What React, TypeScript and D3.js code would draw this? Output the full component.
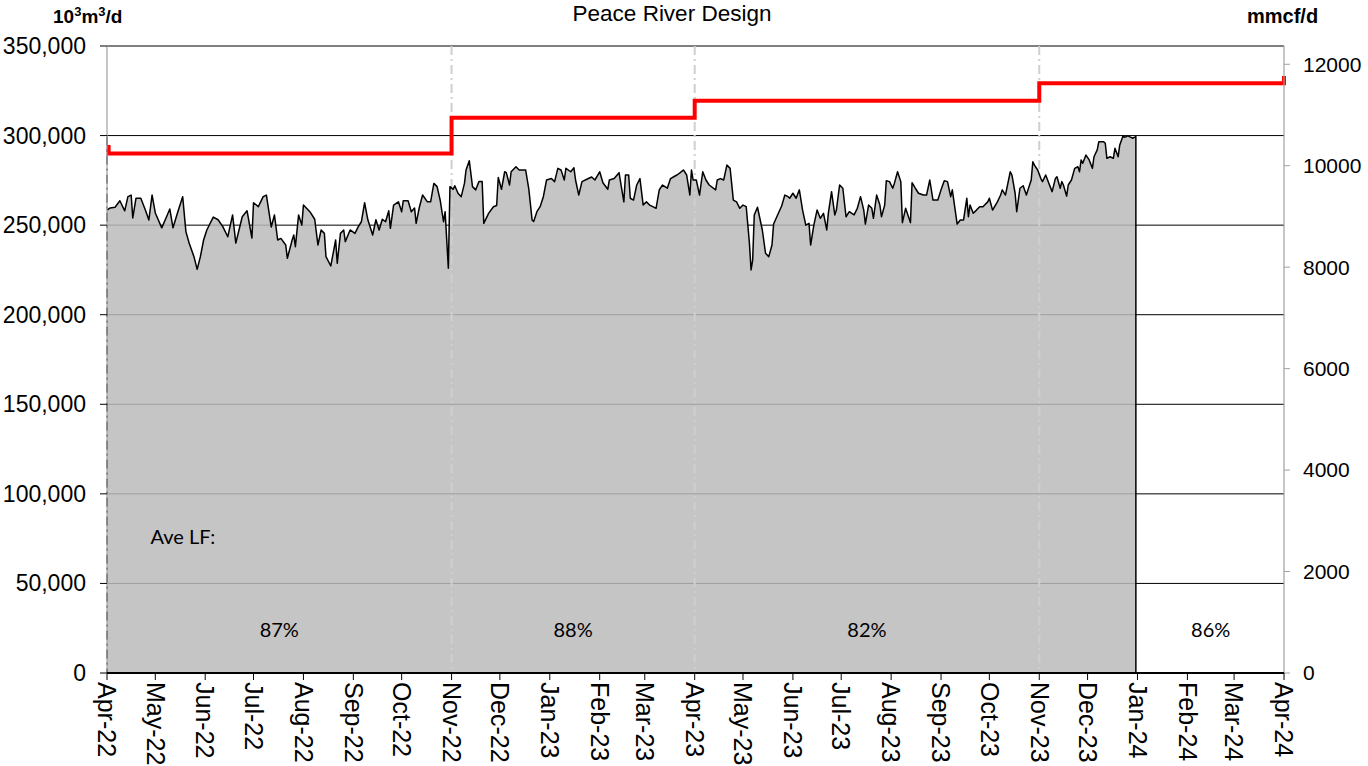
import React from 'react';
import * as d3 from 'd3';

// days since 2022-04-01 and daily flow (10^3 m3/d, in thousands)
const flowDays = [
  0, 2, 5, 8, 11, 13, 15, 16, 18, 21, 24, 26, 28, 30, 34, 37, 39, 41, 44, 47, 49, 51, 54, 56, 58, 60, 62, 66, 69, 72,
  75, 78, 80, 84, 87, 90, 91, 94, 97, 99, 102, 104, 106, 108, 111, 112, 115, 116, 117, 119, 121, 122, 126, 129, 131,
  133, 135, 136, 139, 142, 143, 145, 147, 148, 151, 154, 156, 158, 160, 162, 165, 167, 169, 171, 173, 175, 176, 178,
  181, 183, 184, 187, 189, 191, 192, 194, 196, 199, 201, 203, 205, 207, 209, 210, 212, 213, 215, 216, 218, 220, 222,
  223, 225, 227, 229, 231, 233, 234, 237, 240, 242, 243, 245, 247, 248, 250, 251, 254, 256, 260, 262, 264, 265, 267,
  269, 271, 273, 276, 278, 280, 282, 284, 285, 288, 290, 291, 293, 295, 298, 301, 303, 306, 308, 311, 312, 315, 318,
  321, 322, 324, 325, 327, 329, 331, 333, 335, 337, 339, 341, 343, 345, 348, 350, 352, 354, 356, 358, 360, 362, 363,
  364, 366, 368, 370, 372, 374, 378, 379, 381, 383, 385, 387, 389, 391, 393, 395, 397, 399, 400, 401, 402, 404, 407,
  409, 411, 413, 414, 416, 419, 421, 423, 424, 426, 428, 430, 432, 434, 436, 437, 439, 441, 443, 445, 447, 448, 450,
  452, 453, 455, 457, 459, 461, 464, 466, 468, 470, 471, 473, 475, 476, 478, 480, 481, 483, 484, 486, 488, 489, 491,
  493, 494, 496, 499, 500, 502, 504, 507, 509, 511, 513, 516, 518, 520, 522, 524, 525, 528, 530, 532, 534, 535, 536,
  538, 540, 542, 544, 547, 548, 550, 553, 555, 556, 558, 561, 562, 564, 565, 567, 569, 571, 572, 574, 575, 576, 578,
  580, 581, 583, 585, 587, 589, 590, 592, 593, 594, 596, 597, 599, 601, 603, 604, 605, 606, 608, 610, 612, 613, 615,
  616, 619, 620, 621, 623, 625, 626, 628, 629, 631, 632, 634, 636, 637, 639,
];
const flowValues = [
  258.4, 259.6, 260.0, 263.6, 258.0, 265.9, 266.8, 254.0, 265.0, 265.0, 258.0, 252.9, 266.8, 256.8, 248.5, 254.7,
  259.0, 248.5, 257.5, 265.9, 246.4, 240.0, 232.4, 225.3, 232.4, 241.7, 247.3, 254.5, 253.0, 249.0, 243.5, 255.7,
  240.0, 254.7, 258.0, 242.8, 262.5, 260.3, 265.9, 266.8, 249.0, 255.7, 241.7, 242.6, 238.9, 231.5, 241.7, 244.5,
  238.0, 255.7, 250.0, 261.2, 257.5, 253.3, 238.9, 247.3, 245.4, 232.4, 227.2, 241.7, 228.7, 245.4, 247.3, 240.8,
  247.3, 245.4, 249.0, 251.9, 262.5, 253.0, 244.5, 253.0, 247.3, 253.3, 251.9, 258.0, 248.2, 261.2, 263.0, 257.5,
  263.6, 263.6, 257.5, 259.6, 251.0, 260.0, 266.8, 263.0, 263.0, 273.3, 271.5, 263.6, 251.9, 257.5, 225.9, 271.5,
  270.0, 272.0, 267.8, 265.9, 273.3, 280.8, 286.0, 271.5, 269.7, 274.3, 274.3, 251.0, 256.6, 260.3, 261.0, 276.6,
  270.0, 279.8, 279.3, 272.4, 279.8, 282.6, 280.8, 280.8, 270.0, 252.9, 252.0, 257.5, 260.3, 265.9, 275.2, 276.0,
  274.3, 281.7, 280.8, 275.2, 281.7, 279.8, 282.0, 275.2, 266.8, 274.3, 275.6, 276.9, 275.2, 279.8, 273.7, 270.0,
  275.2, 276.0, 279.3, 263.0, 278.0, 278.0, 265.0, 264.0, 272.4, 276.0, 261.2, 263.0, 261.2, 260.3, 259.4, 269.7,
  272.4, 270.6, 276.0, 277.0, 278.0, 279.3, 280.8, 278.0, 266.8, 280.8, 275.2, 275.2, 266.8, 279.8, 275.2, 272.4,
  269.7, 275.2, 276.0, 275.2, 283.5, 281.7, 264.0, 263.0, 259.4, 261.2, 260.3, 239.8, 225.0, 230.5, 255.7, 260.0,
  247.3, 234.3, 232.4, 238.9, 250.6, 254.7, 260.7, 266.8, 265.9, 265.0, 267.8, 265.0, 269.7, 258.4, 250.0, 251.0,
  238.9, 250.0, 258.4, 253.8, 256.6, 247.3, 256.6, 268.7, 255.7, 258.4, 272.4, 270.6, 254.7, 257.5, 255.7, 259.4,
  265.9, 258.4, 250.6, 261.2, 259.4, 253.8, 266.8, 261.2, 254.7, 261.2, 274.8, 274.3, 270.6, 273.3, 279.8, 274.3,
  251.4, 259.4, 251.4, 273.7, 270.6, 267.8, 266.8, 266.8, 275.2, 264.0, 264.0, 269.7, 274.8, 274.3, 265.9, 269.7,
  250.6, 252.9, 252.9, 265.0, 254.7, 261.2, 256.6, 258.4, 260.3, 260.3, 263.0, 265.0, 258.4, 263.0, 266.8, 269.7,
  266.8, 279.8, 278.0, 267.8, 257.5, 270.6, 272.0, 266.8, 269.7, 275.2, 285.4, 283.5, 280.8, 276.0, 274.3, 278.0,
  273.3, 268.7, 276.0, 277.0, 270.6, 274.3, 272.4, 266.2, 272.4, 275.2, 281.7, 282.6, 279.8, 286.4, 284.5, 289.1,
  286.4, 281.7, 288.2, 292.0, 296.6, 296.6, 295.7, 287.3, 288.2, 287.3, 292.9, 288.2, 294.8, 299.8, 299.0, 299.8,
  299.0, 298.5, 299.4,
];

// design capacity steps (days since 2022-04-01, 10^3 m3/d)
const designDays = [0, 1, 214, 365, 579, 731];
const designValues = [293600, 290000, 310000, 319500, 329200, 333200];

const leftTicks = [0, 50000, 100000, 150000, 200000, 250000, 300000, 350000];
const rightTicks = [0, 2000, 4000, 6000, 8000, 10000, 12000];
const periodBreaks = ['2022-11-01', '2023-04-01', '2023-11-01'];
const lfLabels = ['87%', '88%', '82%', '86%'];
const lfStarts = ['2022-04-01', '2022-11-01', '2023-04-01', '2024-01-01'];
const lfEnds = ['2022-11-01', '2023-04-01', '2023-11-01', '2024-04-01'];

const M3_PER_MCF = 28.3168;
const START = new Date(2022, 3, 1);
const END = new Date(2024, 3, 1);
const parse = (s: string) => {
  const [y, m, d] = s.split('-').map(Number);
  return new Date(y, m - 1, d);
};

const W = 1368;
const H = 766;
const L = 107;
const R = 1284;
const T = 46;
const B = 673;
const FONT = "Arial, 'Liberation Sans', sans-serif";
const LABEL_FONT = "Lato, 'Open Sans', sans-serif";

export default function App() {
  const x = d3.scaleTime().domain([START, END]).range([L, R]);
  const y = d3.scaleLinear().domain([0, 350000]).range([B, T]);
  const yR = d3.scaleLinear().domain([0, 350000 / M3_PER_MCF]).range([B, T]);

  const flow = flowDays.map((d, i) => ({ date: d3.timeDay.offset(START, d), v: flowValues[i] * 1000 }));
  const design = designDays.map((d, i) => ({ date: d3.timeDay.offset(START, d), v: designValues[i] }));

  const area = d3
    .area<{ date: Date; v: number }>()
    .x((d) => x(d.date))
    .y0(B)
    .y1((d) => y(d.v));
  const last = flow[flow.length - 1];
  const line = d3
    .line<{ date: Date; v: number }>()
    .x((d) => x(d.date))
    .y((d) => y(d.v));
  const outline = line([...flow, { date: last.date, v: 0 }]) || '';
  const redLine =
    d3
      .line<{ date: Date; v: number }>()
      .x((d) => x(d.date))
      .y((d) => y(d.v))
      .curve(d3.curveStepAfter)(design) || '';

  const months = d3.timeMonth.range(START, d3.timeDay.offset(END, 1));
  const fmt = d3.timeFormat('%b-%y');

  return (
    <svg width={W} height={H} style={{ position: 'absolute', left: 0, top: 0, background: '#fff' }}>
      <rect x={0} y={0} width={W} height={H} fill="#fff" />
      {/* gridlines */}
      {leftTicks.map((t) => (
        <line key={'g' + t} x1={L} x2={R} y1={y(t)} y2={y(t)} stroke="#000" strokeWidth={1} />
      ))}
      {/* area */}
      <path d={area(flow) || ''} fill="#bbbbbb" fillOpacity={0.85} />
      {/* period break lines */}
      {periodBreaks.map((p) => (
        <line
          key={p}
          x1={x(parse(p))}
          x2={x(parse(p))}
          y1={T}
          y2={B}
          stroke="#cfcfcf"
          strokeWidth={2}
          strokeDasharray="9,4,2,4"
        />
      ))}
      <path d={outline} fill="none" stroke="#000" strokeWidth={1.5} strokeLinejoin="round" />
      <path d={redLine} fill="none" stroke="#ff0000" strokeWidth={4} />
      {/* axes */}
      <line x1={L} x2={L} y1={T} y2={B} stroke="#a0a0a0" strokeWidth={1.2} />
      <line x1={L} x2={L} y1={y(last.v)} y2={B} stroke="#555" strokeWidth={1} strokeDasharray="9,4,2,4" />
      <line x1={R} x2={R} y1={T} y2={B} stroke="#a0a0a0" strokeWidth={1.2} />
      <line x1={L} x2={R} y1={B} y2={B} stroke="#000" strokeWidth={2} />
      {leftTicks.map((t) => (
        <g key={'l' + t}>
          <line x1={L - 7} x2={L} y1={y(t)} y2={y(t)} stroke="#000" strokeWidth={1} />
          <text x={86} y={y(t)} dy="0.35em" textAnchor="end" fontFamily={FONT} fontSize={23} fill="#000">
            {d3.format(',')(t)}
          </text>
        </g>
      ))}
      {rightTicks.map((t) => (
        <g key={'r' + t}>
          <line x1={R} x2={R + 6} y1={yR(t)} y2={yR(t)} stroke="#a0a0a0" strokeWidth={1} />
          <text x={1303} y={yR(t)} dy="0.35em" textAnchor="start" fontFamily={FONT} fontSize={21} fill="#000">
            {t}
          </text>
        </g>
      ))}
      {months.map((m) => (
        <g key={'m' + m.getTime()}>
          <line x1={x(m)} x2={x(m)} y1={B} y2={B + 7} stroke="#000" strokeWidth={1} />
          <text
            transform={`translate(${x(m)},${B + 9}) rotate(90)`}
            dy="0.35em"
            textAnchor="start"
            fontFamily={FONT}
            fontSize={25}
            fill="#000"
          >
            {fmt(m)}
          </text>
        </g>
      ))}
      {/* titles */}
      <text x={672} y={21} textAnchor="middle" fontFamily={FONT} fontSize={22.5} fill="#000">
        Peace River Design
      </text>
      <text x={53} y={23} fontFamily={FONT} fontSize={19} fontWeight="bold" fill="#000">
        10<tspan dy={-7} fontSize={13}>3</tspan>
        <tspan dy={7}>m</tspan>
        <tspan dy={-7} fontSize={13}>3</tspan>
        <tspan dy={7}>/d</tspan>
      </text>
      <text x={1247} y={23} fontFamily={FONT} fontSize={20} fontWeight="bold" fill="#000">
        mmcf/d
      </text>
      <text
        x={x(d3.timeDay.offset(START, 27))}
        y={y(76000)}
        dy="0.35em"
        fontFamily={LABEL_FONT}
        fontSize={20}
        fill="#000"
      >
        Ave LF:
      </text>
      {lfLabels.map((t, i) => {
        const a = parse(lfStarts[i]).getTime();
        const b = parse(lfEnds[i]).getTime();
        return (
          <text
            key={t + i}
            x={x(new Date((a + b) / 2))}
            y={y(24000)}
            dy="0.35em"
            textAnchor="middle"
            fontFamily={LABEL_FONT}
            fontSize={20}
            fill="#000"
          >
            {t}
          </text>
        );
      })}
    </svg>
  );
}
